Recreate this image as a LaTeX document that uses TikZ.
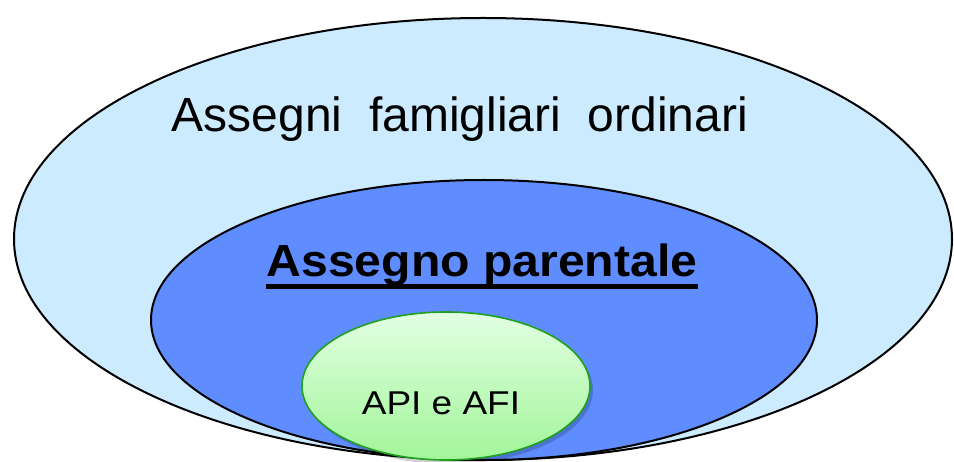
\documentclass[tikz,border=0pt]{standalone}
\usepackage{fontspec}
\setmainfont{Liberation Sans}
\usetikzlibrary{calc}
\definecolor{outerfill}{HTML}{CCEBFF}
\definecolor{midfill}{HTML}{5F8DFF}
\definecolor{intop}{HTML}{E2FFE2}
\definecolor{inbot}{HTML}{A2F59A}
\definecolor{inborder}{HTML}{1FA01F}
\tikzset{
  region/.style={draw=black, line width=2pt},
  lbl/.style={inner sep=0pt, anchor=base, text=black},
}
\begin{document}
\begin{tikzpicture}[x=1pt, y=-1pt]
\useasboundingbox (0,0) rectangle (954,462);
\fill[white] (0,0) rectangle (954,462);
% outer
\draw[region, fill=outerfill] (483,239) ellipse [x radius=469, y radius=221];
% middle
\draw[region, fill=midfill] (484,320) ellipse [x radius=333, y radius=140];
% inner shadow
\fill[black, opacity=0.18] (449,390) ellipse [x radius=144, y radius=74];
% inner
\draw[draw=inborder, line width=1.6pt, top color=intop, bottom color=inbot] (446,386) ellipse [x radius=144, y radius=74];
% texts
\node[lbl, font=\fontsize{48}{56}\selectfont] (t1) at (460,132) {Assegni\ \ famigliari\ \ ordinari};
\node[lbl, xscale=1.07, font=\fontsize{45}{54}\selectfont\bfseries] (t2) at (482,277) {Assegno parentale};
\draw[line width=5pt] ($(t2.base west)+(0,10)$) -- ($(t2.base east)+(0,10)$);
\node[lbl, xscale=1.12, font=\fontsize{33}{40}\selectfont] (t3) at (441,415) {API e AFI};
\end{tikzpicture}
\end{document}
